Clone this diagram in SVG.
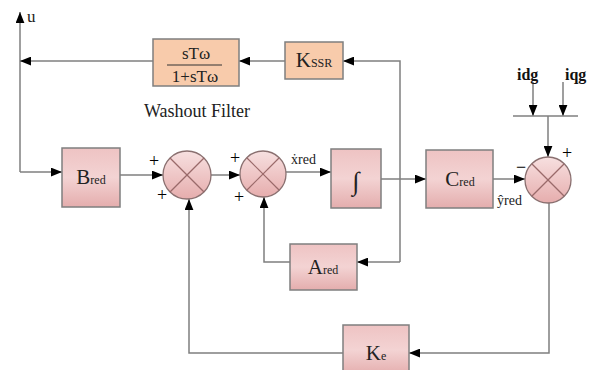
<svg xmlns="http://www.w3.org/2000/svg" width="595" height="370" viewBox="0 0 595 370">
<defs>
<linearGradient id="gBox" x1="0" y1="0" x2="0" y2="1">
<stop offset="0" stop-color="#eec3c3"/>
<stop offset="0.5" stop-color="#f3d3d3"/>
<stop offset="1" stop-color="#e4adad"/>
</linearGradient>
<linearGradient id="gSum" x1="0" y1="0" x2="0" y2="1">
<stop offset="0" stop-color="#f7e0e0"/>
<stop offset="1" stop-color="#e6adad"/>
</linearGradient>
<marker id="arr" viewBox="0 0 10 8" refX="10" refY="4" markerWidth="11" markerHeight="9" markerUnits="userSpaceOnUse" orient="auto">
<path d="M0,0 L10,4 L0,8 Z" fill="#000"/>
</marker>
<style>
.box{fill:url(#gBox);stroke:#7f7f7f;stroke-width:1.5}
.wbox{fill:#f8cbab;stroke:#7f7f7f;stroke-width:1.5}
.sum{fill:url(#gSum);stroke:#8a7070;stroke-width:1.3}
.x{stroke:#9a6a6a;stroke-width:1.2}
.ln{fill:none;stroke:#7f7f7f;stroke-width:1.5}
.ar{marker-end:url(#arr)}
.t{font-family:"Liberation Serif","Times New Roman",serif;fill:#222}
.big{font-size:21px}
.sub{font-size:12px}
.sg{font-family:"Liberation Serif","Times New Roman",serif;font-size:18px;fill:#000}
.lbl{font-family:"Liberation Serif","Times New Roman",serif;font-size:16px;font-weight:bold;fill:#111}
</style>
</defs>
<g id="connectors">
<path class="ln ar" d="M20,172 L20,12"/>
<path class="ln ar" d="M20,172 L62,172"/>
<path class="ln ar" d="M153,61 L20,61"/>
<path class="ln ar" d="M285,61 L239,61"/>
<path class="ln ar" d="M400,262 L400,61 L343,61"/>
<path class="ln ar" d="M400,262 L357,262"/>
<path class="ln ar" d="M120,175 L163,175"/>
<path class="ln ar" d="M211,175 L240,175"/>
<path class="ln ar" d="M286,172 L331,172"/>
<path class="ln ar" d="M381,179 L426,179"/>
<path class="ln ar" d="M493,179 L525,179"/>
<path class="ln ar" d="M533,82 L533,116"/>
<path class="ln ar" d="M563,82 L563,116"/>
<path class="ln" d="M513,116 L578,116"/>
<path class="ln ar" d="M548,116 L548,157"/>
<path class="ln ar" d="M549,203 L549,353 L409,353"/>
<path class="ln ar" d="M343,353 L189,353 L189,199"/>
<path class="ln ar" d="M290,262 L264,262 L264,197"/>
</g>
<g id="u-label"><text class="t" x="27" y="22" font-size="17">u</text></g>
<g id="washout">
<rect class="wbox" x="153" y="39" width="86" height="47"/>
<text class="t" x="196" y="59" font-size="17" text-anchor="middle">sTω</text>
<line x1="167" y1="65" x2="222" y2="65" stroke="#333" stroke-width="1"/>
<text class="t" x="195" y="82" font-size="17" text-anchor="middle">1+sTω</text>
</g>
<g id="washout-label"><text class="t" x="197" y="117" font-size="18" text-anchor="middle">Washout Filter</text></g>
<g id="kssr">
<rect class="wbox" x="285" y="42" width="58" height="37"/>
<text class="t" x="314" y="67" text-anchor="middle"><tspan class="big">K</tspan><tspan font-size="12">SSR</tspan></text>
</g>
<g id="bred">
<rect class="box" x="62" y="148" width="58" height="59"/>
<text class="t" x="91" y="184" text-anchor="middle"><tspan class="big">B</tspan><tspan class="sub">red</tspan></text>
</g>
<g id="sum1">
<circle class="sum" cx="187" cy="175" r="24"/>
<line class="x" x1="170" y1="158" x2="204" y2="192"/>
<line class="x" x1="204" y1="158" x2="170" y2="192"/>
<text class="sg" x="154" y="167" text-anchor="middle">+</text>
<text class="sg" x="162" y="201" text-anchor="middle">+</text>
</g>
<g id="sum2">
<circle class="sum" cx="263" cy="174" r="23"/>
<line class="x" x1="247" y1="158" x2="279" y2="190"/>
<line class="x" x1="279" y1="158" x2="247" y2="190"/>
<text class="sg" x="235" y="164" text-anchor="middle">+</text>
<text class="sg" x="239" y="203" text-anchor="middle">+</text>
</g>
<g id="xred-label"><text class="t" x="291" y="164" font-size="14">ẋred</text></g>
<g id="integrator">
<rect class="box" x="331" y="149" width="50" height="59"/>
<text class="t" x="356" y="190" font-size="26" text-anchor="middle">∫</text>
</g>
<g id="cred">
<rect class="box" x="426" y="150" width="67" height="58"/>
<text class="t" x="460" y="186" text-anchor="middle"><tspan class="big">C</tspan><tspan class="sub">red</tspan></text>
</g>
<g id="yred-label"><text class="t" x="497" y="205" font-size="14">ŷred</text></g>
<g id="idg"><text class="lbl" x="517" y="80">idg</text></g>
<g id="iqg"><text class="lbl" x="565" y="80">iqg</text></g>
<g id="sum3">
<circle class="sum" cx="548" cy="180" r="23"/>
<line class="x" x1="532" y1="164" x2="564" y2="196"/>
<line class="x" x1="564" y1="164" x2="532" y2="196"/>
<text class="sg" x="521" y="173" text-anchor="middle">−</text>
<text class="sg" x="567" y="159" text-anchor="middle">+</text>
</g>
<g id="ared">
<rect class="box" x="290" y="244" width="67" height="46"/>
<text class="t" x="323" y="274" text-anchor="middle"><tspan class="big">A</tspan><tspan class="sub">red</tspan></text>
</g>
<g id="ke">
<rect class="box" x="343" y="325" width="66" height="50"/>
<text class="t" x="376" y="360" text-anchor="middle"><tspan class="big">K</tspan><tspan class="sub">e</tspan></text>
</g>
</svg>
